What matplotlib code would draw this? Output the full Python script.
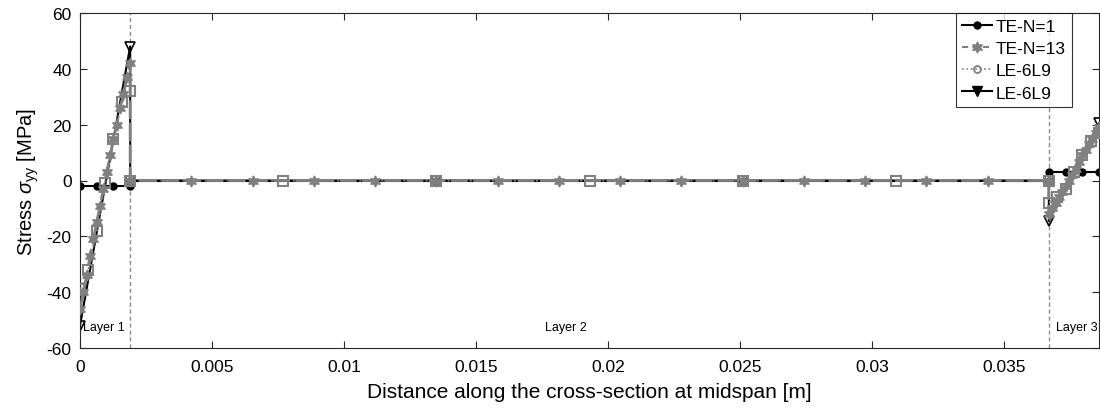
import matplotlib
matplotlib.use("Agg")
import matplotlib.pyplot as plt
from matplotlib.lines import Line2D

plt.rcParams['font.family'] = ['Liberation Sans', 'DejaVu Sans']
plt.rcParams['mathtext.fontset'] = 'custom'
plt.rcParams['mathtext.rm'] = 'Liberation Sans'
plt.rcParams['mathtext.it'] = 'Liberation Sans:italic'
plt.rcParams['axes.unicode_minus'] = False

# ---------------- data ----------------
layer_bounds = [0.0, 0.0019, 0.0367, 0.0386]
layer_names = ["Layer 1", "Layer 2", "Layer 3"]
layer_label_x = [0.00012, 0.0176, 0.03698]

# TE-N=1 (black, circles)
te1_x = [0.0, 0.000633, 0.001267, 0.0019,
         0.0019, 0.0135, 0.0251, 0.0367,
         0.0367, 0.037333, 0.037967, 0.0386]
te1_y = [-2.0, -2.0, -2.0, -2.0,
         0.0, 0.0, 0.0, 0.0,
         3.0, 3.0, 3.0, 3.0]

# TE-N=13 (gray dashed, hexagrams)
te13_x = [0.0, 0.000127, 0.000253, 0.00038, 0.000507, 0.000633, 0.00076, 0.000887,
          0.001013, 0.00114, 0.001267, 0.001393, 0.00152, 0.001647, 0.001773, 0.0019,
          0.0019, 0.00422, 0.00654, 0.00886, 0.01118, 0.0135, 0.01582, 0.01814,
          0.02046, 0.02278, 0.0251, 0.02742, 0.02974, 0.03206, 0.03438, 0.0367,
          0.0367, 0.036827, 0.036953, 0.03708, 0.037207, 0.037333, 0.03746, 0.037587,
          0.037713, 0.03784, 0.037967, 0.038093, 0.03822, 0.038347, 0.038473, 0.0386]
te13_y = [-46, -40, -34, -27, -21, -15, -9, -3,
          3, 9, 15, 20, 26, 31, 37, 42,
          0, 0, 0, 0, 0, 0, 0, 0,
          0, 0, 0, 0, 0, 0, 0, 0,
          -12, -10, -8, -6, -4, -2, 0, 2,
          4, 6.5, 9, 11, 13, 15, 17, 19]

# LE-6L9 (gray dotted, squares)
le_x = [0.0, 0.000317, 0.000633, 0.00095, 0.001267, 0.001583, 0.0019,
        0.0019, 0.0077, 0.0135, 0.0193, 0.0251, 0.0309, 0.0367,
        0.0367, 0.037017, 0.037333, 0.03765, 0.037967, 0.038283, 0.0386]
le_y = [-39, -32, -18, -1, 15, 28, 32,
        0, 0, 0, 0, 0, 0, 0,
        -8, -6, -3, 3, 9, 14, 17]

# LE-6L9 (black, down triangles)
le2_x = [0.0, 0.0019, 0.0019, 0.0135, 0.0251, 0.0367, 0.0367, 0.0386]
le2_y = [-52, 48, 0, 0, 0, 0, -14.5, 20.5]

xticks = [0, 0.005, 0.01, 0.015, 0.02, 0.025, 0.03, 0.035]
xticklabels = ["0", "0.005", "0.01", "0.015", "0.02", "0.025", "0.03", "0.035"]
yticks = [-60, -40, -20, 0, 20, 40, 60]

# ---------------- figure ----------------
fig = plt.figure(figsize=(11, 4.1), dpi=100)
ax = fig.add_axes([80 / 1100, 1 - 349 / 410, 1019 / 1100, 335 / 410])

gray = (0.5, 0.5, 0.5)
hexagram = (6, 1, 0)

# layer boundaries
for xb in layer_bounds[1:3]:
    ax.axvline(xb, color=(0.55, 0.55, 0.55), linestyle=(0, (3, 2)), linewidth=1.0, zorder=1)

# black series underneath
ax.plot(te1_x, te1_y, color='black', linestyle='-', linewidth=1.5,
        marker='o', markersize=5, markerfacecolor='black', zorder=2)
ax.plot(le2_x, le2_y, color='black', linestyle='-', linewidth=1.5,
        marker='v', markersize=7, markerfacecolor='none', markeredgecolor='black',
        markeredgewidth=1.2, zorder=2)
# gray series on top
ax.plot(te13_x, te13_y, color=gray, linestyle=(0, (6, 2)), linewidth=2.0,
        marker=hexagram, markersize=8, markerfacecolor=gray, markeredgecolor=gray, zorder=3)
ax.plot(le_x, le_y, color=gray, linestyle=':', linewidth=1.5,
        marker='s', markersize=7, markerfacecolor='none', markeredgecolor=gray,
        markeredgewidth=1.5, zorder=4)

for name, lx in zip(layer_names, layer_label_x):
    ax.text(lx, -52.5, name, fontsize=9, ha='left', va='center', zorder=5)

ax.set_xlim(layer_bounds[0], layer_bounds[-1])
ax.set_ylim(-60, 60)
ax.set_xticks(xticks)
ax.set_xticklabels(xticklabels)
ax.set_yticks(yticks)
ax.tick_params(direction='in', top=True, right=True, labelsize=12.5, length=5,
               color=(0.15, 0.15, 0.15))
ax.tick_params(axis='x', pad=8)
ax.tick_params(axis='y', pad=6)
for s in ax.spines.values():
    s.set_linewidth(0.8)
    s.set_color((0.15, 0.15, 0.15))

ax.set_xlabel("Distance along the cross-section at midspan [m]", fontsize=15, labelpad=6)
ax.set_ylabel(r"Stress $\sigma_{\mathrm{yy}}$ [MPa]", fontsize=14.5, labelpad=4)

handles = [
    Line2D([], [], color='black', linestyle='-', linewidth=1.5, marker='o', markersize=5),
    Line2D([], [], color=gray, linestyle=(0, (3, 2)), linewidth=1.5, marker=hexagram,
           markersize=8),
    Line2D([], [], color=gray, linestyle=':', linewidth=1.2, marker='o', markersize=5,
           markerfacecolor='none', markeredgewidth=1.3),
    Line2D([], [], color='black', linestyle='-', linewidth=1.5, marker='v', markersize=7,
           markerfacecolor='black'),
]
labels = ["TE-N=1", "TE-N=13", "LE-6L9", "LE-6L9"]
leg = ax.legend(handles, labels, loc='upper right', bbox_to_anchor=(0.9735, 1.0),
                fontsize=12.5, frameon=True, fancybox=False, handlelength=1.7,
                handletextpad=0.25, borderpad=0.35, labelspacing=0.4, borderaxespad=0.0)
leg.get_frame().set_edgecolor('black')
leg.get_frame().set_linewidth(0.8)

fig.savefig("out.png", dpi=100)
